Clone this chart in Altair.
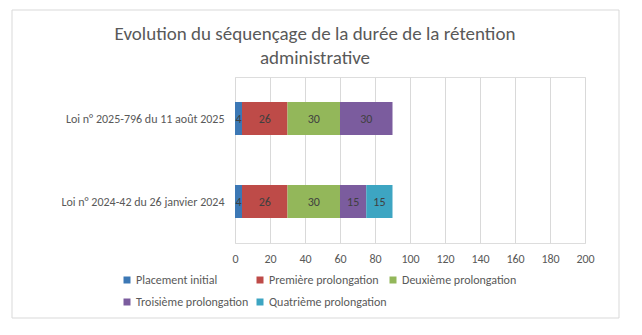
import altair as alt
import pandas as pd

laws = ["Loi n° 2025-796 du 11 août 2025", "Loi n° 2024-42 du 26 janvier 2024"]
phases = ["Placement initial", "Première prolongation", "Deuxième prolongation",
          "Troisième prolongation", "Quatrième prolongation"]
placement_initial = [4, 4]
premiere_prolongation = [26, 26]
deuxieme_prolongation = [30, 30]
troisieme_prolongation = [30, 15]
quatrieme_prolongation = [None, 15]
colors = ["#3C78B5", "#BE4B48", "#93B75A", "#7B5C9E", "#3DA5C2"]
x_ticks = [0, 20, 40, 60, 80, 100, 120, 140, 160, 180, 200]

series = [placement_initial, premiere_prolongation, deuxieme_prolongation,
          troisieme_prolongation, quatrieme_prolongation]
rows = []
for pi, (ph, vals) in enumerate(zip(phases, series)):
    for law, v in zip(laws, vals):
        if v is not None:
            rows.append({"law": law, "phase": ph, "order": pi, "value": v})
df = pd.DataFrame(rows)

FONT = "Carlito, Lato, sans-serif"
GREY = "#595959"

base = alt.Chart(df).transform_stack(
    stack="value", groupby=["law"], as_=["x0", "x1"],
    sort=[alt.SortField("order", order="ascending")]
).transform_calculate(mid="(datum.x0 + datum.x1) / 2")

x_axis = alt.Axis(values=x_ticks, ticks=False, domain=False, grid=True,
                  gridColor="#d9d9d9", labelPadding=10, labelFontSize=12,
                  labelColor=GREY, labelFont=FONT, labelOverlap=False,
                  labelFlush=False)
x_scale = alt.Scale(domain=[0, 200], nice=False)

y_enc = alt.Y("law:N", sort=laws, title=None,
              axis=alt.Axis(ticks=False, domain=False, labelPadding=11,
                            labelFontSize=12, labelColor=GREY, labelFont=FONT,
                            labelLimit=300))

bars = base.mark_bar(size=33).encode(
    x=alt.X("x0:Q", scale=x_scale, title=None, axis=x_axis),
    x2="x1:Q",
    y=y_enc,
    color=alt.Color("phase:N", sort=phases,
                    scale=alt.Scale(domain=phases, range=colors),
                    legend=alt.Legend(title=None, orient="none", legendX=-114, legendY=197,
                                      columns=3, direction="horizontal", gridAlign="all",
                                      symbolType="square", symbolSize=49,
                                      symbolStrokeWidth=0, symbolOpacity=1,
                                      labelFontSize=12, labelColor=GREY, labelFont=FONT,
                                      labelOffset=3, columnPadding=0, rowPadding=10,
                                      labelLimit=200)),
)

labels = base.mark_text(fontSize=12, color="#404040", font=FONT).encode(
    x=alt.X("mid:Q", scale=x_scale, title=None, axis=x_axis),
    y=y_enc,
    text=alt.Text("value:Q"),
)

border = alt.Chart(pd.DataFrame({"a": [0]})).mark_rect(
    fill=None, stroke="#d9d9d9", strokeWidth=1
).encode(
    x=alt.value(-223), x2=alt.value(384), y=alt.value(-67), y2=alt.value(241)
)

chart = alt.layer(bars, labels, border).properties(
    width=350, height=166,
    autosize=alt.AutoSizeParams(type="none"),
    padding={"left": 235, "top": 77, "right": 57, "bottom": 92},
    title=alt.TitleParams(
        text=["Evolution du séquençage de la durée de la rétention", "administrative"],
        anchor="middle", frame="group", dx=-95, offset=12, dy=70,
        fontSize=19, fontWeight="normal", color=GREY, font=FONT, lineHeight=24,
    ),
).configure_view(stroke=None).configure(background="white")

chart.save("out.html", embed_options={"renderer": "svg", "actions": False})
